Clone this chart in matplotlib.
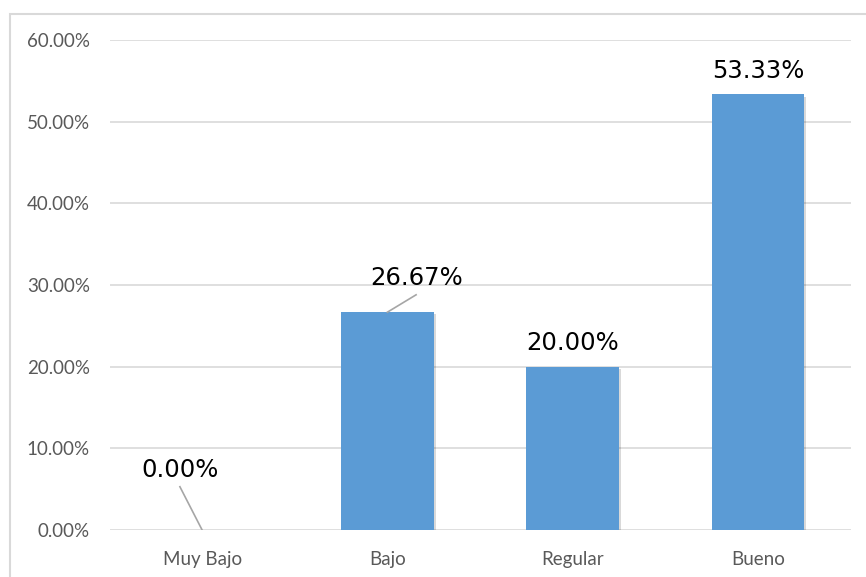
import matplotlib.pyplot as plt
from matplotlib.patches import Rectangle
import matplotlib.patheffects as pe

categorias = ["Muy Bajo", "Bajo", "Regular", "Bueno"]
porcentajes = [0.0, 26.67, 20.00, 53.33]
yticks = [0, 10, 20, 30, 40, 50, 60]

fig = plt.figure(figsize=(8.66, 5.77), dpi=100)
ax = fig.add_axes([109.5 / 866, 47 / 577, 741 / 866, 490 / 577])

# borde del area del grafico (recortado a la derecha y abajo)
fig.patches.append(Rectangle((10 / 866, -0.1), 1.2, (577 - 14) / 577 + 0.1,
                             transform=fig.transFigure, fill=False,
                             edgecolor="#D9D9D9", linewidth=1.5))

x = range(len(categorias))
bars = ax.bar(x, porcentajes, width=0.5, color="#5B9BD5", zorder=3)
for b in bars:
    b.set_path_effects([pe.SimplePatchShadow(offset=(1.5, -1.5), alpha=0.15, shadow_rgbFace="black"),
                        pe.Normal()])

ax.set_xlim(-0.5, 3.5)
ax.set_ylim(0, 60)
ax.set_yticks(yticks)
ax.set_yticklabels(["%.2f%%" % v for v in yticks], fontfamily="Lato", fontsize=13.5, color="#595959")
ax.set_xticks(list(x))
ax.set_xticklabels(categorias, fontfamily="Lato", fontsize=13.5, color="#595959")
ax.tick_params(axis="y", length=0, pad=14)
ax.tick_params(axis="x", length=0, pad=15)
ax.grid(axis="y", color="#D9D9D9", linewidth=1.2, zorder=0)
for s in ax.spines.values():
    s.set_visible(False)

# etiquetas de datos (posicion estimada de la imagen)
etiquetas = [(-0.12, 7.35), (1.16, 30.86), (2.0, 22.9), (3.0, 56.2)]
for i, (lx, ly) in enumerate(etiquetas):
    ax.text(lx, ly, "%.2f%%" % porcentajes[i], ha="center", va="center",
            fontsize=17.5, color="black", zorder=5)

# lineas guia
ax.plot([-0.12, 0.0], [5.3, 0.0], color="#A6A6A6", linewidth=1.2, zorder=4)
ax.plot([1.155, 1.0], [28.8, 26.67], color="#A6A6A6", linewidth=1.2, zorder=4)

fig.savefig("out.png", dpi=100)
